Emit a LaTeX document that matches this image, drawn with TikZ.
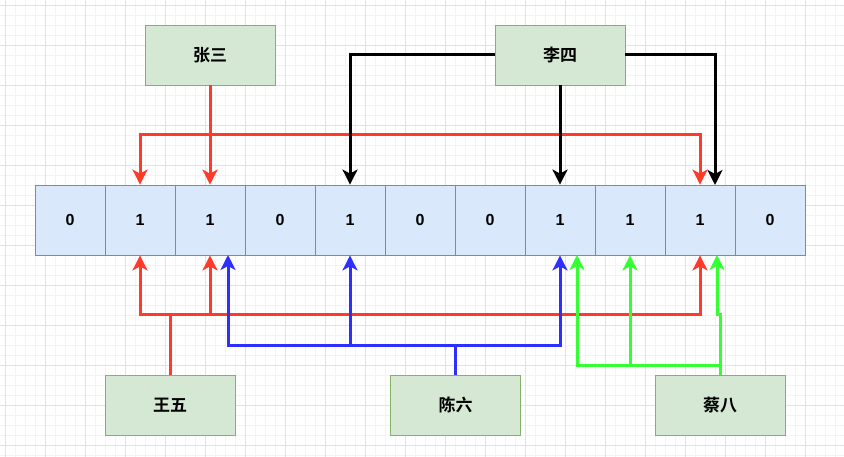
\documentclass[tikz,border=0pt]{standalone}
\usepackage{fontspec}
\setmainfont{Liberation Sans}
\newfontfamily\cjk{Noto Sans CJK SC Bold}
\usetikzlibrary{arrows.meta,calc}
\definecolor{gridminor}{HTML}{F3F3F3}
\definecolor{gridmajor}{HTML}{E2E2E2}
\definecolor{cellfill}{HTML}{DAE8FC}
\definecolor{celldraw}{HTML}{6C8EBF}
\definecolor{boxfill}{HTML}{D5E8D4}
\definecolor{boxdraw}{HTML}{82B366}
\definecolor{lred}{HTML}{FF3A2A}
\definecolor{lblue}{HTML}{2E2EFF}
\definecolor{lgreen}{HTML}{33FF33}
\tikzset{
  cellbox/.style={draw=celldraw,fill=cellfill,line width=0.8pt,minimum width=70pt,minimum height=70pt,inner sep=0pt,font=\fontsize{16}{16}\selectfont\bfseries},
  namebox/.style={draw=boxdraw,fill=boxfill,line width=0.8pt,minimum width=130pt,minimum height=60pt,inner sep=0pt,font=\cjk\fontsize{17}{17}\selectfont},
  conn/.style={line width=3pt,-{Stealth[length=15pt,width=15pt,inset=4pt]}},
  plainline/.style={line width=3pt},
}
\begin{document}
\begin{tikzpicture}[x=1pt,y=-1pt]
\useasboundingbox (0,0) rectangle (844,457);
\fill[white] (0,0) rectangle (844,457);
\foreach \k in {0,...,84} {\draw[gridminor,line width=0.6pt] ({5.3+10*\k},0) -- ({5.3+10*\k},457);}
\foreach \k in {0,...,45} {\draw[gridminor,line width=0.6pt] (0,{5.3+10*\k}) -- (844,{5.3+10*\k});}
\foreach \k in {0,...,21} {\draw[gridmajor,line width=0.6pt] ({5.3+40*\k},0) -- ({5.3+40*\k},457);}
\foreach \k in {0,...,11} {\draw[gridmajor,line width=0.6pt] (0,{5.3+40*\k}) -- (844,{5.3+40*\k});}

\foreach \v [count=\i] in {0,1,1,0,1,0,0,1,1,1,0} {
  \node[cellbox] (c\i) at ({70*\i},220) {\v};
}
\node[namebox] (zs) at (210,55) {张三};
\node[namebox] (ls) at (560,55) {李四};
\node[namebox] (ww) at (170,405) {王五};
\node[namebox] (cl) at (455.5,405) {陈六};
\node[namebox] (cb) at (720,405) {蔡八};

% 张三
\coordinate (zsj) at (210,135);
\draw[plainline,lred] (zs.south) -- (zsj);
\draw[conn,lred] (zsj) -| (c2.north);
\draw[conn,lred] (zsj) -- (c3.north);
\draw[conn,lred] (zsj) -| (c10.north);
% 李四
\coordinate (c10r) at (715,185);
\draw[conn,black] (ls.west) -| (c5.north);
\draw[conn,black] (ls.south) -- (c8.north);
\draw[conn,black] (ls.east) -| (c10r);
% 王五
\coordinate (wwj) at (170,315);
\draw[plainline,lred] (ww.north) -- (wwj);
\draw[conn,lred] (wwj) -| (c2.south);
\draw[conn,lred] (wwj) -| (c3.south);
\draw[conn,lred] (wwj) -| (c10.south);
% 陈六
\coordinate (clj) at (455.5,345);
\coordinate (c3r) at (228,255);
\draw[plainline,lblue] (cl.north) -- (clj);
\draw[conn,lblue] (clj) -| (c3r);
\draw[conn,lblue] (clj) -| (c5.south);
\draw[conn,lblue] (clj) -| (c8.south);
% 蔡八
\coordinate (cbj) at (720,365);
\coordinate (c8r) at (577,255);
\coordinate (c10s) at (717,255);
\coordinate (cbk) at (720,315);
\coordinate (cbl) at (717,315);
\draw[plainline,lgreen] (cb.north) -- (cbj);
\draw[conn,lgreen] (cbj) -| (c8r);
\draw[conn,lgreen] (cbj) -| (c9.south);
\draw[conn,lgreen] (cbj) -- (cbk) -- (cbl) -- (c10s);
\end{tikzpicture}
\end{document}
